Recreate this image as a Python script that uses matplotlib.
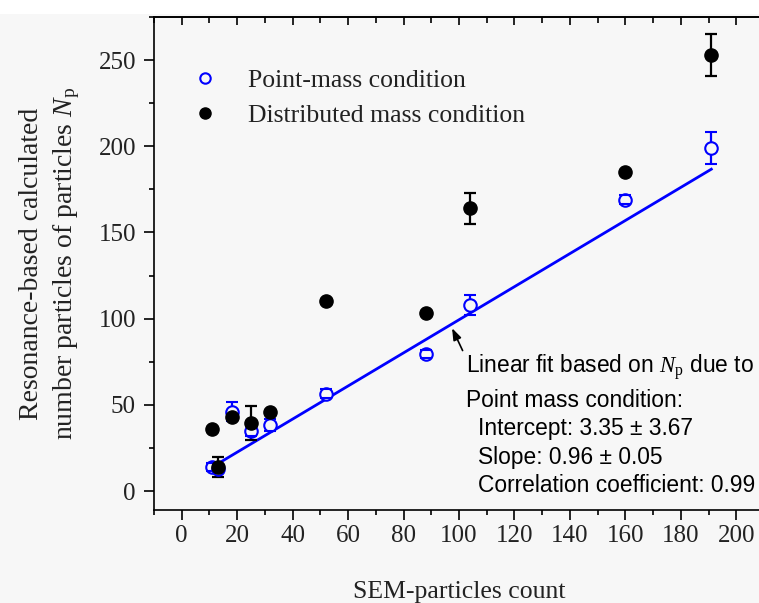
import numpy as np
import matplotlib
matplotlib.use("Agg")
import matplotlib.pyplot as plt
from matplotlib.lines import Line2D
from matplotlib.patches import Rectangle

# SEM counts (x) and resonance-based N_p for both conditions
sem_count = [11, 13, 18, 25, 32, 52, 88, 104, 160, 191]
point_mass = [14, 13, 46, 35, 38.5, 56.5, 79.5, 108, 169, 199]
point_err = [2.5, 2.5, 5.5, 3, 3.5, 2.5, 2.5, 6, 2.5, 9]
dist_mass = [36, 14, 43, 39.5, 46, 110, 103, 164, 185, 253]
dist_err = [0, 6, 0, 10, 0, 0, 0, 9, 0, 12]

fit_x = [11, 191]
intercept, slope = 3.35, 0.96

bg = "#f7f7f7"
plt.rcParams["mathtext.fontset"] = "custom"
plt.rcParams["mathtext.rm"] = "Liberation Serif"
plt.rcParams["mathtext.it"] = "Liberation Serif:italic"

fig = plt.figure(figsize=(7.59, 6.03), dpi=100, facecolor=bg)
fig.patches.append(Rectangle((0, 1 - 14 / 603), 1, 14 / 603, transform=fig.transFigure,
                             facecolor="white", edgecolor="none", zorder=-1))
ax = fig.add_axes([154 / 759, 93 / 603, 610 / 759, 493 / 603], facecolor=bg)

serif = "Liberation Serif"

# fit line
fx = np.array(fit_x)
ax.plot(fx, intercept + slope * fx, color="#0000ff", lw=2, zorder=2)

# point-mass (open blue)
pl, caps, bars = ax.errorbar(sem_count, point_mass, yerr=point_err, fmt="o",
                             color="#0000ff", mfc=bg, mec="#0000ff", ms=9, mew=1.5,
                             elinewidth=1.6, capsize=4.5, capthick=1.6)
pl.set_zorder(4)
for c in caps:
    c.set_zorder(5)
for b in bars:
    b.set_zorder(3)

# distributed mass (filled black)
dl, dcaps, dbars = ax.errorbar(sem_count, dist_mass, yerr=dist_err, fmt="o",
                               color="black", ms=9.5, elinewidth=1.6, capsize=4.5,
                               capthick=1.6)
dl.set_zorder(6)

ax.set_xlim(-10, 210)
ax.set_ylim(-11, 275)
ax.set_xticks(np.arange(0, 201, 20))
ax.set_xticks(np.arange(-10, 211, 10), minor=True)
ax.set_yticks(np.arange(0, 251, 50))
ax.set_yticks(np.arange(0, 276, 25), minor=True)

for s in ax.spines.values():
    s.set_linewidth(1.2)

ax.tick_params(axis="both", which="major", direction="out", length=7, width=1.2,
               labelsize=18, colors="black")
ax.tick_params(axis="both", which="minor", direction="out", length=3.5, width=1.2)
ax.tick_params(axis="x", which="major", pad=4)
ax.tick_params(axis="y", which="major", pad=6)
for lab in ax.get_xticklabels() + ax.get_yticklabels():
    lab.set_fontfamily(serif)
    lab.set_color("#222222")

# inward ticks on the top spine
top = ax.secondary_xaxis("top")
top.set_xticks(np.arange(0, 201, 20))
top.set_xticks(np.arange(-10, 211, 10), minor=True)
top.tick_params(which="major", direction="in", length=6, width=1.2, labeltop=False)
top.tick_params(which="minor", direction="in", length=4, width=1.2)
top.spines["top"].set_linewidth(1.2)

ax.set_xlabel("SEM-particles count", fontfamily=serif, fontsize=18.5, labelpad=24,
              color="#222222")
ax.set_ylabel("Resonance-based calculated\nnumber particles of particles $N_\\mathrm{p}$",
              fontfamily=serif, fontsize=20, labelpad=12, color="#222222",
              linespacing=1.35)

handles = [
    Line2D([], [], ls="none", marker="o", ms=7.5, mfc="none", mec="#0000ff", mew=1.5),
    Line2D([], [], ls="none", marker="o", ms=8, color="black"),
]
leg = ax.legend(handles, ["Point-mass condition", "Distributed mass condition"],
                loc="upper left", bbox_to_anchor=(0.045, 0.915), frameon=False,
                prop={"family": serif, "size": 18.5}, handletextpad=1.2,
                labelspacing=0.45, handlelength=1.0, borderaxespad=0)
for t in leg.get_texts():
    t.set_color("#222222")

sans = "Liberation Sans"
fs = 16.4
ax.annotate("", xy=(97.5, 94.5), xytext=(101.3, 81.5),
            arrowprops=dict(arrowstyle="-|>,head_length=0.7,head_width=0.25",
                            color="black", lw=1.2, shrinkA=0, shrinkB=0))
ax.text(102.5, 72, "Linear fit based on $N_\\mathrm{p}$ due to", fontsize=fs,
        fontfamily=sans, va="center")
ax.text(102.5, 52.8, "Point mass condition:", fontsize=fs, fontfamily=sans, va="center")
ax.text(107, 36.5, "Intercept: 3.35 \u00b1 3.67", fontsize=fs, fontfamily=sans, va="center")
ax.text(107, 19.7, "Slope: 0.96 \u00b1 0.05", fontsize=fs, fontfamily=sans, va="center")
ax.text(107, 3.5, "Correlation coefficient: 0.99", fontsize=fs, fontfamily=sans, va="center")

fig.savefig("out.png", dpi=100, facecolor=bg)
